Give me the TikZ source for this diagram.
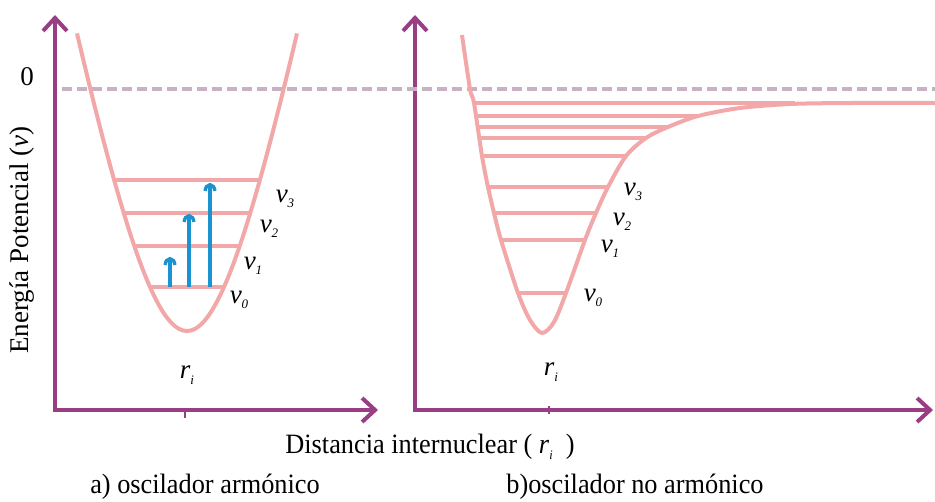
\documentclass[tikz,border=0pt]{standalone}
\usepackage{fontspec}
\setmainfont{Liberation Serif}
\newfontfamily\narrowrm[FakeStretch=0.94]{Liberation Serif}
\usepackage{tikz}
\usetikzlibrary{arrows.meta}
\definecolor{axispurple}{HTML}{993D85}
\definecolor{wellpink}{HTML}{F2A8A8}
\definecolor{zerogrey}{HTML}{C8B1C5}
\definecolor{jumpblue}{HTML}{1A93D0}
\newcommand{\lvl}[2]{\textit{#1}\raisebox{-0.45ex}{\fontsize{13}{13}\selectfont\textit{#2}}}

\begin{document}
\begin{tikzpicture}[x=1pt, y=-1pt, line width=4pt,
    axis/.style={axispurple, line width=4pt,
      {Straight Barb[length=13pt,width=24pt]}-{Straight Barb[length=13pt,width=24pt]}},
    well/.style={wellpink, line width=4pt},
    level/.style={wellpink, line width=3.4pt},
    jump/.style={jumpblue, line width=3.4pt, -{Arc Barb[length=8pt,width=13pt]}},
    lab/.style={font=\fontsize{27}{30}\selectfont},
    captext/.style={font=\narrowrm\fontsize{28}{30}\selectfont}]
  \useasboundingbox (0,0) rectangle (935,501);
  % axes
  \coordinate (ya) at (55,15);  \coordinate (xa) at (378,410);
  \coordinate (yb) at (415,15); \coordinate (xb) at (933,410);
  \draw[axis] (ya) |- (xa);
  \draw[axis] (yb) |- (xb);
  \draw[axispurple, line width=2.5pt] (185,410) -- (185,418);
  \draw[axispurple, line width=2.5pt] (549,406) -- (549,414);
  % zero of energy
  \draw[zerogrey, line width=4pt, dash pattern=on 10pt off 5pt] (62,89) -- (935,89);
  % a) harmonic well
  \draw[well] plot[domain=-110:110, samples=61, smooth]
    ({187+\x}, {331-392*(sqrt(1+(\x/76)^2)-1)});
  \foreach \y in {287, 246, 213, 180}{
    \pgfmathsetmacro\w{76*sqrt(((331-\y)/392+1)^2-1)}
    \draw[level] ({187-\w},\y) -- ({187+\w},\y);}
  \foreach \x/\t in {170/257, 189/214, 210/183}
    \draw[jump] (\x,287) -- (\x,\t);
  \foreach \n/\x/\y in {0/239/300, 1/253/266, 2/269/229, 3/285/199}
    \node[lab] (va\n) at (\x,\y) {\lvl{v}{\n}};
  % b) anharmonic well
  \draw[well] plot[smooth, tension=0.5] coordinates {(462,35) (470,89) (474,103)
    (482,156) (488,187) (494,213) (501,240) (518,293) (530,320) (542,333)
    (554,322) (566,293) (585,240) (596,213) (608,187) (626,156) (646,138)
    (668,127) (698,116) (740,108) (790,104) (850,103) (935,103)};
  \foreach \y/\a/\b in {293/518/566, 240/501/585, 213/494/596, 187/488/608,
      156/482/626, 138/480/646, 127/478/668, 116/476/698, 103/474/795}
    \draw[level] (\a,\y) -- (\b,\y);
  \foreach \n/\x/\y in {0/593/298, 1/610/249, 2/622/222, 3/633/192}
    \node[lab] (vb\n) at (\x,\y) {\lvl{v}{\n}};
  % labels
  \node[lab] (zero) at (27,77) {0};
  \node[lab, rotate=90] (ylab) at (22,240) {Energía Potencial (\textit{v})};
  \node[lab] (ria) at (187,375) {\lvl{r}{i}};
  \node[lab] (rib) at (551,372) {\lvl{r}{i}};
  \node[captext] (xlab) at (430,447) {Distancia internuclear ( \lvl{r}{i}\ \ )};
  \node[captext] (capa) at (205,487) {a) oscilador armónico};
  \node[captext] (capb) at (635,487) {b)oscilador no armónico};
\end{tikzpicture}
\end{document}
